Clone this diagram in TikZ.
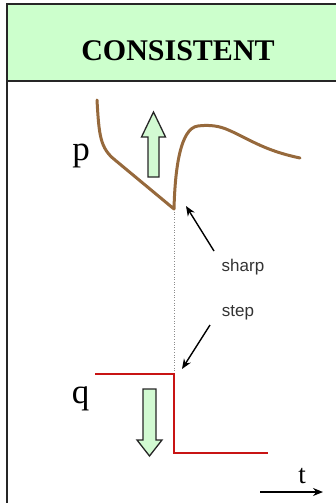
\documentclass[tikz,border=0pt]{standalone}
\usepackage{fontspec}
\setmainfont{Liberation Serif}
\newfontfamily\labfont{Liberation Sans}
\usetikzlibrary{arrows.meta}
\definecolor{hdrgreen}{RGB}{204,255,204}
\definecolor{arrgreen}{RGB}{210,250,210}
\definecolor{pbrown}{RGB}{150,105,60}
\definecolor{qred}{RGB}{200,20,20}
\tikzset{
  frame/.style={line width=2pt,draw=black!85},
  pcurve/.style={draw=pbrown,line width=3pt,line cap=round,line join=round},
  qcurve/.style={draw=qred,line width=2.6pt,line join=miter},
  bigarrow/.style={fill=arrgreen,draw=black!85,line width=1.3pt,line join=miter},
  pointer/.style={draw=black,line width=1.4pt,-{Stealth[length=10pt,width=8pt]}},
  serifbig/.style={font=\fontsize{35}{35}\selectfont,inner sep=0pt,anchor=base},
  sanslab/.style={font=\labfont\fontsize{17}{17}\selectfont,inner sep=0pt,anchor=base,text=black!80},
}
\begin{document}
\begin{tikzpicture}[x=1pt,y=-1pt]
\useasboundingbox (0,0) rectangle (335,503);
% frame and header
\fill[hdrgreen] (7,4) rectangle (340,81);
\draw[frame] (340,4) -- (7,4) -- (7,510);
\draw[frame] (7,81) -- (340,81);
\node[font=\bfseries\fontsize{30}{30}\selectfont,inner sep=0pt,anchor=base] (title) at (178,60) {CONSISTENT};
% labels
\node[serifbig] (plab) at (81,160) {p};
\node[serifbig] (qlab) at (80.5,403) {q};
\node[font=\fontsize{27}{27}\selectfont,inner sep=0pt,anchor=base] (tlab) at (302,483) {t};
\node[sanslab] (sharp) at (243,271) {sharp};
\node[sanslab] (steplab) at (238,316) {step};
% key points
\coordinate (cusp) at (174,209);
\coordinate (corner) at (174,374);
% dotted guide
\draw[black!45,line width=0.6pt,dotted] (cusp) -- (corner);
% p curve
\draw[pcurve] (97,100) .. controls (99,135) and (100,148) .. (115,160) -- (cusp)
  .. controls (175,170) and (180,128) .. (198,126)
  .. controls (206,125) and (216,125) .. (226,129)
  .. controls (248,138) and (262,150) .. (300,158);
% q step
\draw[qcurve] (95,374) -- (corner) -- (174,453) -- (268,453);
% green arrows
\draw[bigarrow] (153.5,112) -- (165.5,137) -- (159,137) -- (159,177) -- (148,177) -- (148,137) -- (141.5,137) -- cycle;
\draw[bigarrow] (149.5,456) -- (162,440) -- (156,440) -- (156,389) -- (143,389) -- (143,440) -- (137,440) -- cycle;
% pointers
\coordinate (sharpfrom) at (214,251);
\coordinate (sharpto) at (186,206);
\coordinate (stepfrom) at (210,325);
\coordinate (stepto) at (182,369);
\draw[pointer] (sharpfrom) -- (sharpto);
\draw[pointer] (stepfrom) -- (stepto);
% t axis
\coordinate (tstart) at (260,492);
\coordinate (tend) at (323,492);
\draw[pointer] (tstart) -- (tend);
\end{tikzpicture}
\end{document}
